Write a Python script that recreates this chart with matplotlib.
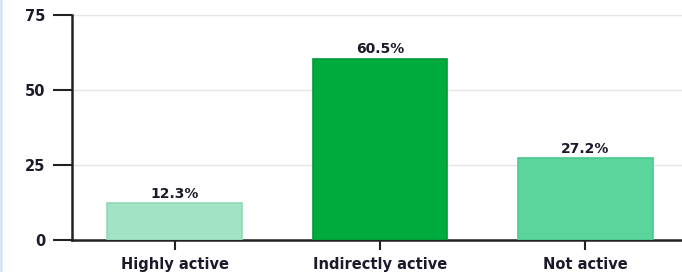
import matplotlib
matplotlib.use("Agg")
import matplotlib.pyplot as plt
from matplotlib.lines import Line2D

categories = ["Highly active", "Indirectly active", "Not active"]
values = [12.3, 60.5, 27.2]
labels = ["12.3%", "60.5%", "27.2%"]
colors = ["#a2e3c6", "#00ab3e", "#5bd59c"]
edges = ["#8fd8b6", "#00993a", "#4cc88e"]
yticks = [0, 25, 50, 75]

fig = plt.figure(figsize=(6.82, 2.72), dpi=100)
ax = fig.add_axes([72 / 682, 1 - 240 / 272, 1 - 72 / 682, 225 / 272])

x = range(len(categories))
ax.bar(x, values, width=0.655, color=colors, edgecolor=edges, linewidth=1.2, zorder=3)
for xi, v, lab in zip(x, values, labels):
    ax.text(xi, v + 0.8, lab, ha="center", va="bottom", fontsize=10,
            fontweight="bold", color="#1a1a2a")

ax.set_xlim(-0.5, 2.47)
ax.set_ylim(0, 75)
ax.set_yticks(yticks)
ax.set_xticks(list(x))
ax.set_xticklabels(categories)
ax.grid(axis="y", color="#e4e4e4", linewidth=1, zorder=0)

for s in ["top", "right"]:
    ax.spines[s].set_visible(False)
for s in ["left", "bottom"]:
    ax.spines[s].set_linewidth(1.8)
    ax.spines[s].set_color("#222222")

ax.tick_params(axis="y", length=14, width=1.5, color="#222222", pad=5,
               labelsize=10.5, labelcolor="#1a1a2a")
ax.tick_params(axis="x", length=7, width=1.5, color="#222222", pad=5,
               labelsize=10.5, labelcolor="#1a1a2a")
for t in ax.get_xticklabels() + ax.get_yticklabels():
    t.set_fontweight("bold")

# panel border on the left edge
fig.add_artist(Line2D([0.002, 0.002], [0, 1], color="#d4e4f4", linewidth=2,
                      transform=fig.transFigure))

fig.savefig("out.png", dpi=100)
